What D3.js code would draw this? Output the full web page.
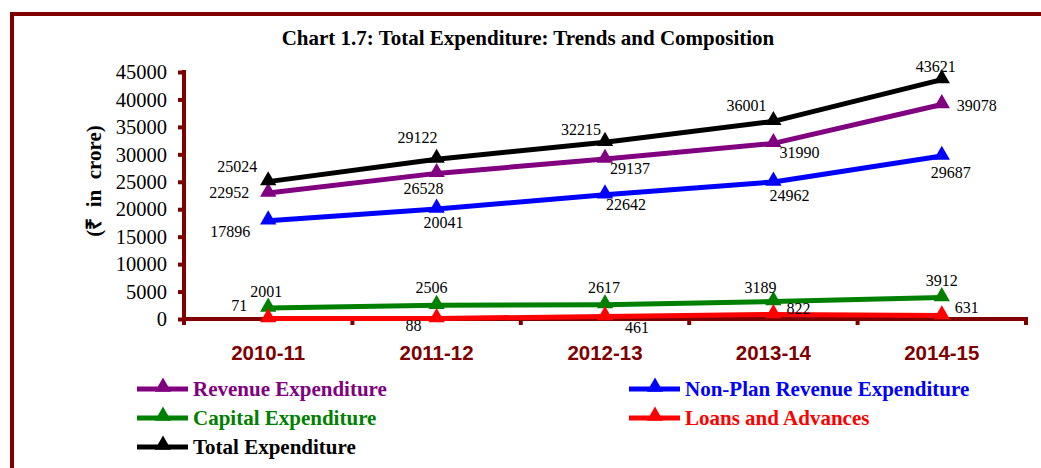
<!DOCTYPE html>
<html><head><meta charset="utf-8">
<script src="https://cdn.jsdelivr.net/npm/d3@7"></script>
<style>body{margin:0;background:#fff}svg{display:block}</style>
</head><body>
<svg id="c" width="1041" height="468"></svg>
<script>
const categories = ["2010-11","2011-12","2012-13","2013-14","2014-15"];
const revenueExp = [22952, 26528, 29137, 31990, 39078];
const nonPlanRevExp = [17896, 20041, 22642, 24962, 29687];
const capitalExp = [2001, 2506, 2617, 3189, 3912];
const loansAdv = [71, 88, 461, 822, 631];
const totalExp = [25024, 29122, 32215, 36001, 43621];
const yTicks = [0,5000,10000,15000,20000,25000,30000,35000,40000,45000];

const series = [
  {name:"Capital Expenditure", color:"#008000", values:capitalExp, lab:[[-2,-17],[-5,-18],[-1,-17],[-13,-14],[0,-17]]},
  {name:"Loans and Advances", color:"#FF0000", values:loansAdv, lab:[[-29,-13],[-23,7],[32,11],[25,-6],[25,-8]]},
  {name:"Non-Plan Revenue Expenditure", color:"#0000FF", values:nonPlanRevExp, lab:[[-38,11],[7,13],[21,10],[16,13],[9,16]]},
  {name:"Revenue Expenditure", color:"#800080", values:revenueExp, lab:[[-39,-1],[-13,15],[25,9],[26,9],[35,1]]},
  {name:"Total Expenditure", color:"#000000", values:totalExp, lab:[[-31,-15],[-19,-22],[-24,-13],[-27,-16],[-6,-13]]}
];
const legendOrder = [
  {s:"Revenue Expenditure", col:0,row:0},{s:"Non-Plan Revenue Expenditure", col:1,row:0},
  {s:"Capital Expenditure", col:0,row:1},{s:"Loans and Advances", col:1,row:1},
  {s:"Total Expenditure", col:0,row:2}
];

const svg = d3.select("#c");
const axisColor = "#800000";
// frame
svg.append("rect").attr("x",12).attr("y",14).attr("width",1060).attr("height",500)
  .attr("fill","none").attr("stroke",axisColor).attr("stroke-width",4);

svg.append("text").attr("x",528).attr("y",45).attr("text-anchor","middle")
  .attr("font-family","Liberation Serif").attr("font-weight","bold").attr("font-size",21)
  .text("Chart 1.7: Total Expenditure: Trends and Composition");

const x = d3.scaleBand().domain(categories).range([184,1026]);
const y = d3.scaleLinear().domain([0,45000]).range([319,72]);

// y axis
const ya = svg.append("g").attr("transform","translate(184,0)").call(d3.axisLeft(y).tickValues(yTicks).tickSize(6).tickPadding(11).tickFormat(d3.format("d")));
ya.select(".domain").attr("stroke",axisColor).attr("stroke-width",4).attr("d","M0,70V321");
ya.selectAll(".tick line").attr("stroke",axisColor).attr("stroke-width",4);
ya.selectAll(".tick text").attr("font-family","Liberation Serif").attr("font-size",20.5).attr("fill","#000").attr("dy","0.33em");

// x axis
const xa = svg.append("g").attr("transform","translate(0,319)");
xa.append("line").attr("x1",182).attr("x2",1028).attr("y1",0).attr("y2",0).attr("stroke",axisColor).attr("stroke-width",4);
const bounds = categories.map(c=>x(c)).concat([x.range()[1]]);
xa.selectAll(".tk").data(bounds).join("line").attr("x1",d=>d).attr("x2",d=>d).attr("y1",0).attr("y2",6)
  .attr("stroke",axisColor).attr("stroke-width",4);
xa.selectAll(".xl").data(categories).join("text")
  .attr("x",d=>x(d)+x.bandwidth()/2).attr("y",41).attr("text-anchor","middle")
  .attr("font-family","Liberation Sans").attr("font-weight","bold").attr("font-size",20.5).attr("fill",axisColor).text(d=>d);

// y title
svg.append("text").attr("transform","translate(101,181) rotate(-90)").attr("text-anchor","middle")
  .attr("font-family","Liberation Serif").attr("font-weight","bold").attr("font-size",21)
  .attr("xml:space","preserve").style("white-space","pre").text("(₹  in  crore)");

const cx = c => x(c)+x.bandwidth()/2;
const line = d3.line().x((d,i)=>cx(categories[i])).y(d=>y(d));
const tri = d3.symbol().type(d3.symbolTriangle).size(115);

series.forEach(s=>{
  const g = svg.append("g");
  g.append("path").datum(s.values).attr("d",line).attr("fill","none").attr("stroke",s.color).attr("stroke-width",5).attr("stroke-linejoin","round");
  g.selectAll("path.m").data(s.values).join("path").attr("class","m")
    .attr("transform",(d,i)=>`translate(${cx(categories[i])},${y(d)-1})`).attr("d",tri).attr("fill",s.color);
});
series.forEach(s=>{
  svg.append("g").selectAll("text").data(s.values).join("text")
    .attr("x",(d,i)=>cx(categories[i])+s.lab[i][0]).attr("y",(d,i)=>y(d)+s.lab[i][1]).attr("dy","0.35em")
    .attr("text-anchor","middle").attr("font-family","Liberation Serif").attr("font-size",16).attr("fill","#000").text(d=>d);
});

// legend
const lg = svg.append("g");
legendOrder.forEach(l=>{
  const s = series.find(v=>v.name===l.s);
  const lx = l.col===0 ? 137 : 629, ly = 389 + l.row*29;
  lg.append("line").attr("x1",lx).attr("x2",lx+51).attr("y1",ly).attr("y2",ly).attr("stroke",s.color).attr("stroke-width",5);
  lg.append("path").attr("transform",`translate(${lx+26},${ly-2})`).attr("d",tri).attr("fill",s.color);
  lg.append("text").attr("x",lx+56).attr("y",ly).attr("dy","0.35em").attr("font-family","Liberation Serif")
    .attr("font-weight","bold").attr("font-size",21).attr("fill",s.color).text(s.name);
});
</script>
</body></html>
